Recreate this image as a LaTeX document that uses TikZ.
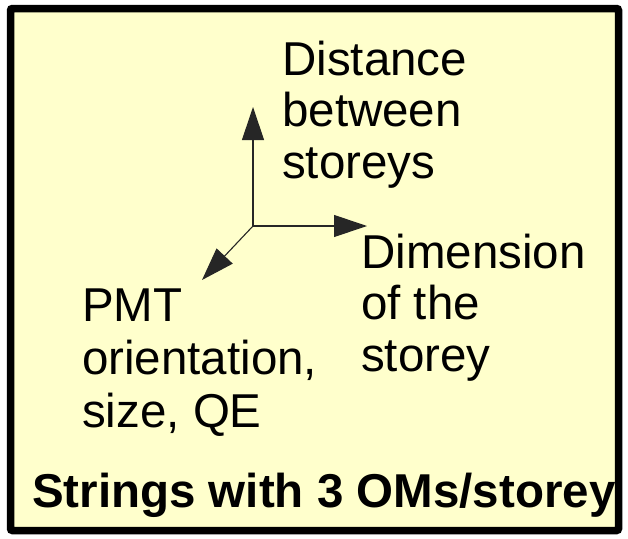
\documentclass[tikz,border=0pt]{standalone}
\usepackage{fontspec}
\setmainfont{Liberation Sans}
\usetikzlibrary{arrows.meta}
\definecolor{bgyellow}{HTML}{FFFFCC}
\tikzset{
  lbl/.style={anchor=base west, inner sep=0pt, align=left, font=\fontsize{47.5}{51.5}\selectfont},
  axis/.style={draw=black!85, line width=1.1pt, -{Triangle[length=33pt,width=22pt]}},
}
\begin{document}
\begin{tikzpicture}[x=1pt,y=-1pt]
\useasboundingbox (0,0) rectangle (628,538);
\draw[line width=7.5pt, fill=bgyellow, rounded corners=2pt] (10.5,8.5) rectangle (618.5,530.5);
\coordinate (o) at (253,226);
\coordinate (up) at (253,107);
\coordinate (rt) at (367,226);
\coordinate (dl) at (202,280);
\draw[axis] (o) -- (up);
\draw[axis] (o) -- (rt);
\draw[axis] (o) -- (dl);
\node[lbl] (dist) at (282,178) {Distance\\between\\storeys};
\node[lbl] (dim) at (361,371) {Dimension\\of the\\storey};
\node[lbl, font=\fontsize{47.5}{53}\selectfont] (pmt) at (82,427) {PMT\\orientation,\\size, QE};
\node[lbl, font=\fontsize{47.5}{51.5}\selectfont\bfseries] (title) at (32,507) {Strings with 3 OMs/storey};
\end{tikzpicture}
\end{document}
